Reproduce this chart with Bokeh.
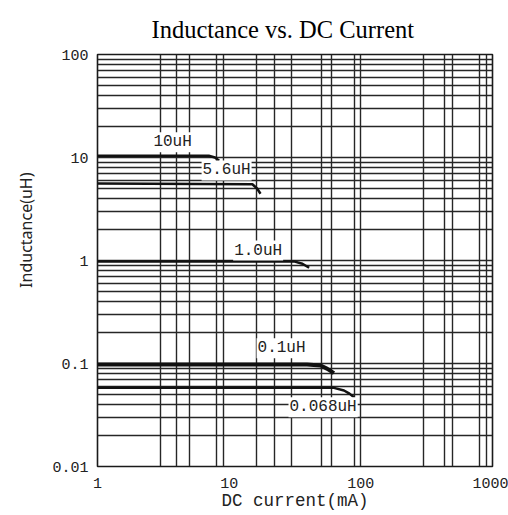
from bokeh.plotting import figure
from bokeh.models import FixedTicker, CustomJSTickFormatter, Label, Range1d, Title
from bokeh.embed import file_html
from bokeh.resources import INLINE

# ---- data ----
series_names = ["10uH", "5.6uH", "1.0uH", "0.1uH", "0.068uH"]

current_10uH = [1, 7.0, 7.8, 8.4]
induct_10uH = [10.4, 10.4, 10.0, 9.3]

current_5u6 = [1, 15.0, 16.3, 17.3]
induct_5u6 = [5.6, 5.5, 5.0, 4.45]

current_1u0 = [1, 31, 36, 40.5]
induct_1u0 = [0.98, 0.98, 0.93, 0.85]

current_0u1 = [1, 39, 49.5, 55.7, 62.5]
induct_0u1 = [0.098, 0.098, 0.0956, 0.0887, 0.0806]

current_0u068 = [1, 62.5, 74.5, 82, 88.7]
induct_0u068 = [0.058, 0.058, 0.0547, 0.051, 0.047]

x_tick_values = [1, 10, 100, 1000]
y_tick_values = [0.01, 0.1, 1, 10, 100]
x_grid_values = [3, 4, 5, 8, 9, 16, 22, 30, 50, 60, 90, 100, 300, 430, 500, 800, 900]
y_grid_values = [m * 10.0 ** e for e in range(-2, 2) for m in range(1, 10)] + [100]

MONO = "Liberation Mono"

p = figure(width=508, height=515,
           x_axis_type="log", y_axis_type="log",
           x_range=Range1d(1, 1000), y_range=Range1d(0.01, 100),
           output_backend="svg", toolbar_location=None,
           min_border_left=97, min_border_right=16,
           min_border_top=54, min_border_bottom=49,
           title="Inductance vs. DC Current")

p.title.text_font = "Liberation Serif"
p.title.text_font_size = "24.5px"
p.title.text_font_style = "normal"
p.title.text_color = "black"
p.title.align = "left"
p.title.offset = 54
p.title.standoff = 24

p.background_fill_color = "white"
p.border_fill_color = "white"
p.outline_line_color = "#1a1a1a"
p.outline_line_width = 1.6

# grid
p.xgrid.ticker = FixedTicker(ticks=x_grid_values)
p.ygrid.ticker = FixedTicker(ticks=y_grid_values)
for g in (p.xgrid, p.ygrid):
    g.grid_line_color = "#262626"
    g.grid_line_width = 1.4
    g.grid_line_alpha = 1.0

# axes
fmt = CustomJSTickFormatter(code="return String(tick);")
p.xaxis.ticker = FixedTicker(ticks=x_tick_values)
p.yaxis.ticker = FixedTicker(ticks=y_tick_values)
for ax in (p.xaxis, p.yaxis):
    ax.formatter = fmt
    ax.axis_line_color = None
    ax.major_tick_line_color = None
    ax.minor_tick_line_color = None
    ax.major_tick_out = 0
    ax.major_tick_in = 0
    ax.minor_tick_out = 0
    ax.minor_tick_in = 0
    ax.major_label_text_font = MONO
    ax.major_label_text_font_size = "15px"
    ax.major_label_text_color = "#222222"
    ax.axis_label_text_font_style = "normal"
    ax.axis_label_text_color = "#222222"

p.xaxis.axis_label = "DC current(mA)"
p.xaxis.axis_label_text_font = MONO
p.xaxis.axis_label_text_font_size = "17.5px"
p.xaxis.major_label_standoff = 11
p.xaxis.axis_label_standoff = 0

p.yaxis.major_label_standoff = 9

# y-axis title as a side-panel title, shifted up from the centre as in the reference
p.add_layout(Title(text="Inductance(uH)", align="right", offset=118,
                   text_font="Noto Sans", text_font_size="16px",
                   text_font_style="normal", text_color="#222222",
                   standoff=25), "left")

# curves
curves = [
    (current_10uH, induct_10uH, 2.5),
    (current_5u6, induct_5u6, 2.5),
    (current_1u0, induct_1u0, 2.5),
    (current_0u1, induct_0u1, 4.0),
    (current_0u068, induct_0u068, 2.5),
]
for xs, ys, w in curves:
    p.line(xs, ys, line_color="#111111", line_width=w, line_join="round")

# curve labels (annotation positions in data units)
label_pos = [(3.72, 14.1), (9.56, 7.48), (16.6, 1.25), (25.0, 0.141), (51.7, 0.0377)]
for name, (lx, ly) in zip(series_names, label_pos):
    p.add_layout(Label(x=lx, y=ly, text=name,
                       text_font=MONO, text_font_size="16px",
                       text_color="#222222",
                       text_align="center", text_baseline="middle",
                       background_fill_color="white", padding=1))

open("out.html", "w").write(file_html(p, INLINE))
